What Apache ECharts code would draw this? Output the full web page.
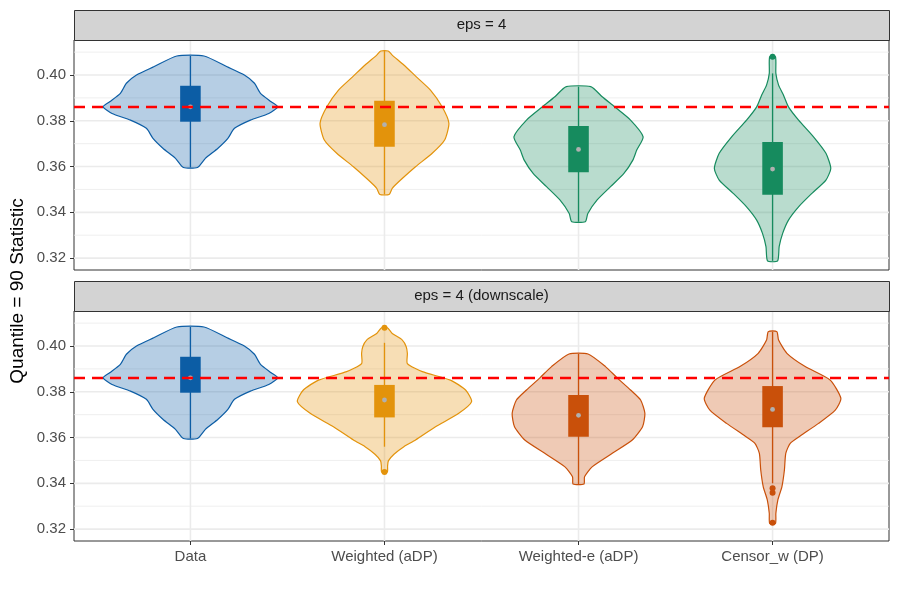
<!DOCTYPE html>
<html>
<head>
<meta charset="utf-8">
<script src="https://cdn.jsdelivr.net/npm/echarts@6/dist/echarts.min.js"></script>
<style>html,body{margin:0;padding:0;background:#fff}#chart{width:900px;height:600px}</style>
</head>
<body>
<div id="chart"></div>
<script>
// ---------- data ----------
const categories = ['Data', 'Weighted (aDP)', 'Weighted-e (aDP)', 'Censor_w (DP)'];
const panelTitles = ['eps = 4', 'eps = 4 (downscale)'];
const yTitle = 'Quantile = 90 Statistic';
const referenceLine = 0.386;
const majorBreaks = [0.32, 0.34, 0.36, 0.38, 0.40];
const minorBreaks = [0.33, 0.35, 0.37, 0.39, 0.41];

// violin density outlines: [statistic value, half width in category units]
const violinData = [
  [0.3596,0.036],[0.3636,0.077],[0.3680,0.142],[0.3723,0.193],[0.3767,0.227],[0.3803,0.309],
  [0.3832,0.404],[0.3861,0.450],[0.3883,0.416],[0.3920,0.361],[0.3964,0.330],[0.4000,0.278],
  [0.4036,0.189],[0.4083,0.070]
];
const violinWeighted = [
  [0.3478,0.024],[0.3505,0.040],[0.3541,0.083],[0.3599,0.160],[0.3658,0.246],[0.3716,0.310],
  [0.3789,0.332],[0.3861,0.297],[0.3934,0.237],[0.3993,0.163],[0.4044,0.100],[0.4087,0.040],
  [0.4105,0.019]
];
const violinWeightedE = [
  [0.3359,0.035],[0.3395,0.048],[0.3454,0.096],[0.3512,0.165],[0.3570,0.234],[0.3628,0.280],
  [0.3672,0.300],[0.3730,0.333],[0.3803,0.268],[0.3861,0.186],[0.3905,0.122],[0.3949,0.063]
];
const violinCensor = [
  [0.3188,0.026],[0.3250,0.034],[0.3308,0.052],[0.3366,0.082],[0.3424,0.134],[0.3483,0.203],
  [0.3541,0.275],[0.3592,0.300],[0.3658,0.275],[0.3730,0.211],[0.3803,0.134],[0.3861,0.082],
  [0.3913,0.056],[0.3956,0.031],[0.4007,0.017],[0.4080,0.015]
];
const violinWeightedDown = [
  [0.3449,0.015],[0.3475,0.016],[0.3498,0.020],[0.3527,0.049],[0.3560,0.100],[0.3589,0.160],
  [0.3647,0.263],[0.3706,0.383],[0.3757,0.449],[0.3808,0.418],[0.3851,0.340],[0.3888,0.195],
  [0.3923,0.118],[0.3967,0.118],[0.3997,0.112],[0.4026,0.092],[0.4055,0.040],[0.4080,0.015]
];
const violinWeightedEDown = [
  [0.3397,0.028],[0.3429,0.031],[0.3472,0.070],[0.3531,0.174],[0.3589,0.277],[0.3647,0.330],
  [0.3706,0.342],[0.3764,0.320],[0.3808,0.268],[0.3861,0.199],[0.3910,0.139],[0.3965,0.049]
];
const violinCensorDown = [
  [0.3225,0.015],[0.3269,0.017],[0.3327,0.027],[0.3385,0.048],[0.3458,0.061],[0.3531,0.068],
  [0.3575,0.091],[0.3607,0.142],[0.3662,0.237],[0.3720,0.323],[0.3771,0.352],[0.3851,0.297],
  [0.3910,0.168],[0.3968,0.074],[0.4026,0.031],[0.4063,0.022]
];

// box stats: [lower whisker, Q1, median, Q3, upper whisker]
const boxData = [0.3596, 0.3796, 0.3861, 0.3953, 0.4083];
const boxWeighted = [0.3478, 0.3687, 0.3783, 0.3888, 0.4105];
const boxWeightedE = [0.3359, 0.3575, 0.3675, 0.3777, 0.3949];
const boxCensor = [0.3188, 0.3477, 0.3589, 0.3707, 0.4007];
const boxWeightedDown = [0.3560, 0.3688, 0.3764, 0.3830, 0.4014];
const boxWeightedEDown = [0.3397, 0.3604, 0.3697, 0.3786, 0.3965];
const boxCensorDown = [0.3400, 0.3645, 0.3723, 0.3825, 0.4063];

const outliersData = [];
const outliersWeighted = [];
const outliersWeightedE = [];
const outliersCensor = [0.4080];
const outliersWeightedDown = [0.4080, 0.3449];
const outliersWeightedEDown = [];
const outliersCensorDown = [0.3378, 0.3359, 0.3228];

// ---------- styling ----------
const colBlue = '#0C5DA5', colOrange = '#E3930B', colGreen = '#168B5E', colRed = '#C9500A';
const panels = [
  { violins: [violinData, violinWeighted, violinWeightedE, violinCensor],
    boxes: [boxData, boxWeighted, boxWeightedE, boxCensor],
    outliers: [outliersData, outliersWeighted, outliersWeightedE, outliersCensor],
    colors: [colBlue, colOrange, colGreen, colGreen] },
  { violins: [violinData, violinWeightedDown, violinWeightedEDown, violinCensorDown],
    boxes: [boxData, boxWeightedDown, boxWeightedEDown, boxCensorDown],
    outliers: [outliersData, outliersWeightedDown, outliersWeightedEDown, outliersCensorDown],
    colors: [colBlue, colOrange, colRed, colRed] }
];

const yMin = 0.3148, yMax = 0.4153, xMin = 0.4, xMax = 4.6;
const gridTops = [40, 311], gridH = 230, gridL = 74, gridR = 11;
const fontFam = '"Liberation Sans", Arial, Helvetica, sans-serif';

function alpha(hex, a) {
  const r = parseInt(hex.slice(1,3),16), g = parseInt(hex.slice(3,5),16), b = parseInt(hex.slice(5,7),16);
  return `rgba(${r},${g},${b},${a})`;
}

const grids = gridTops.map(t => ({ left: gridL, right: gridR, top: t, height: gridH,
  show: true, borderColor: '#333333', borderWidth: 1, backgroundColor: 'transparent', containLabel: false }));

const xAxes = gridTops.map((t, gi) => ({
  type: 'value', gridIndex: gi, min: xMin, max: xMax,
  axisLine: { show: false }, splitLine: { show: false },
  axisTick: { show: gi === 1, length: 4, lineStyle: { color: '#333333', width: 1 }, customValues: [1,2,3,4] },
  axisLabel: { show: gi === 1, customValues: [1,2,3,4], margin: 8, color: '#4D4D4D', fontSize: 15, fontFamily: fontFam,
    formatter: v => categories[Math.round(v) - 1] || '' }
}));
const yAxes = gridTops.map((t, gi) => ({
  type: 'value', gridIndex: gi, min: yMin, max: yMax,
  axisLine: { show: false }, splitLine: { show: false },
  axisTick: { show: true, length: 4, lineStyle: { color: '#333333', width: 1 }, customValues: majorBreaks },
  axisLabel: { show: true, customValues: majorBreaks, margin: 8, color: '#4D4D4D', fontSize: 15, fontFamily: fontFam,
    formatter: v => v.toFixed(2) }
}));

const gridItems = []
  .concat(minorBreaks.map(v => ({ kind: 'h', v: v, w: 0.8 })))
  .concat(majorBreaks.map(v => ({ kind: 'h', v: v, w: 1.6 })))
  .concat(categories.map((c, i) => ({ kind: 'v', v: i + 1, w: 1.6 })));

const series = [];
panels.forEach((p, gi) => {
  // background grid lines
  series.push({
    type: 'custom', xAxisIndex: gi, yAxisIndex: gi, z: 1, silent: true, clip: true,
    data: gridItems.map((g, i) => [i]),
    encode: { x: -1, y: -1 },
    renderItem: (params, api) => {
      const g = gridItems[params.dataIndex];
      const cs = params.coordSys;
      if (g.kind === 'h') {
        const y = api.coord([1, g.v])[1];
        if (y < cs.y || y > cs.y + cs.height) return null;
        return { type: 'line', shape: { x1: cs.x, y1: y, x2: cs.x + cs.width, y2: y },
          style: { stroke: '#EBEBEB', lineWidth: g.w } };
      }
      const x = api.coord([g.v, yMin])[0];
      return { type: 'line', shape: { x1: x, y1: cs.y, x2: x, y2: cs.y + cs.height },
        style: { stroke: '#EBEBEB', lineWidth: g.w } };
    }
  });
  // violins + boxplots
  series.push({
    type: 'custom', xAxisIndex: gi, yAxisIndex: gi, z: 3, silent: true,
    data: p.boxes.map((b, i) => [i + 1, b[0], b[4]]),
    encode: { x: 0, y: [1, 2] },
    renderItem: (params, api) => {
      const i = params.dataIndex;
      const x = api.value(0);
      const prof = p.violins[i], col = p.colors[i], b = p.boxes[i];
      const right = prof.map(d => api.coord([x + d[1], d[0]]));
      const left = prof.slice().reverse().map(d => api.coord([x - d[1], d[0]]));
      const children = [
        { type: 'polygon', shape: { points: right.concat(left), smooth: 0.2 },
          style: { fill: alpha(col, 0.3), stroke: col, lineWidth: 1.2 } }
      ];
      const lo = api.coord([x, b[0]]), hi = api.coord([x, b[4]]);
      children.push({ type: 'line', shape: { x1: lo[0], y1: lo[1], x2: hi[0], y2: hi[1] },
        style: { stroke: col, lineWidth: 1.3 } });
      const q3 = api.coord([x - 0.053, b[3]]), q1 = api.coord([x + 0.053, b[1]]);
      children.push({ type: 'rect', shape: { x: q3[0], y: q3[1], width: q1[0] - q3[0], height: q1[1] - q3[1] },
        style: { fill: col, stroke: null } });
      p.outliers[i].forEach(o => {
        const c = api.coord([x, o]);
        children.push({ type: 'circle', shape: { cx: c[0], cy: c[1], r: 3 }, style: { fill: col } });
      });
      const m = api.coord([x, b[2]]);
      children.push({ type: 'circle', shape: { cx: m[0], cy: m[1], r: 2.4 }, style: { fill: '#B0B0B0' } });
      return { type: 'group', children };
    }
  });
  // reference line
  series.push({
    type: 'custom', xAxisIndex: gi, yAxisIndex: gi, z: 6, silent: true,
    data: [[referenceLine]],
    encode: { y: 0, x: -1 },
    renderItem: (params, api) => {
      const cs = params.coordSys;
      const y = api.coord([1, api.value(0)])[1];
      return { type: 'line', shape: { x1: cs.x, y1: y, x2: cs.x + cs.width, y2: y },
        style: { stroke: '#FF0000', lineWidth: 2.6, lineDash: [11, 7] } };
    }
  });
});

const graphics = [];
gridTops.forEach((t, gi) => {
  graphics.push({ type: 'rect', left: gridL, top: t - 30, silent: true, z: 10,
    shape: { x: 0, y: 0, width: 900 - gridL - gridR, height: 30 },
    style: { fill: '#D3D3D3', stroke: '#333333', lineWidth: 1 } });
  graphics.push({ type: 'text', silent: true, z: 11,
    x: gridL + (900 - gridL - gridR) / 2, y: t - 15,
    style: { text: panelTitles[gi], fill: '#1A1A1A', fontSize: 15, fontFamily: fontFam, align: 'center', verticalAlign: 'middle' } });
});
graphics.push({ type: 'text', silent: true, x: 18, y: 291, rotation: Math.PI / 2,
  style: { text: yTitle, fill: '#000000', fontSize: 19, fontFamily: fontFam, align: 'center', verticalAlign: 'middle' } });

const chart = echarts.init(document.getElementById('chart'), null, { renderer: 'canvas' });
chart.setOption({
  animation: false,
  backgroundColor: '#ffffff',
  grid: grids,
  xAxis: xAxes,
  yAxis: yAxes,
  series: series,
  graphic: graphics
});
</script>
</body>
</html>
